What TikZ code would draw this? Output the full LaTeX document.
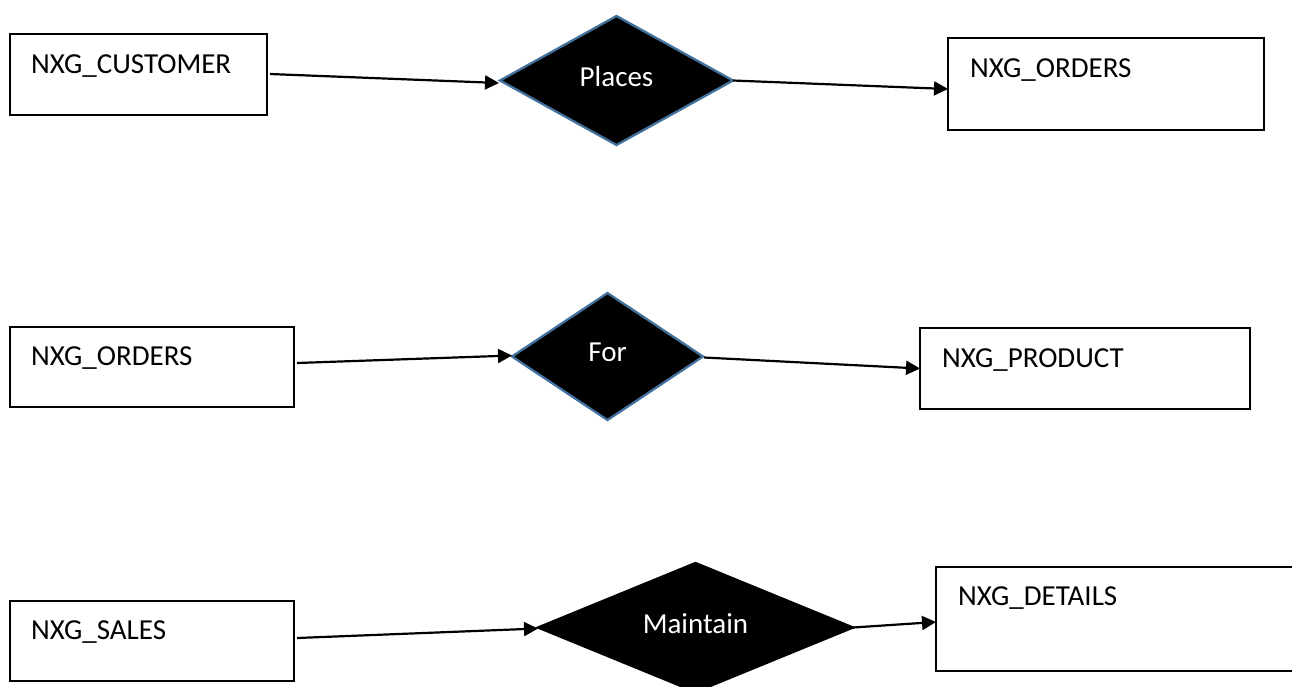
\documentclass[tikz,border=0pt]{standalone}
\usepackage{fontspec}
\setmainfont{Carlito}
\usetikzlibrary{shapes.geometric,arrows.meta}
\definecolor{diablue}{HTML}{41719C}
\tikzset{
  ent/.style={draw=black, line width=1.5pt, rectangle, inner sep=0pt, outer sep=0pt},
  lbl/.style={anchor=base west, inner sep=0pt, font=\fontsize{29}{35}\selectfont},
  rel/.style={shape=diamond, fill=black, draw=diablue, line width=2.3pt, inner sep=0pt, outer sep=0pt,
    text=white, text depth=8pt, font=\fontsize{29}{35}\selectfont},
  conn/.style={line width=2.2pt, -{Triangle[length=14pt,width=14pt]}}
}
\begin{document}
\begin{tikzpicture}[x=1pt,y=-1pt]
\useasboundingbox (0,0) rectangle (1292,686);
\clip (0,0) rectangle (1292,686);
% row 1
\node[ent, minimum width=257pt, minimum height=81pt] (cust) at (138.5,74.5) {};
\node[lbl] (custT) at ([shift={(21,39)}]cust.north west) {NXG\_CUSTOMER};
\node[rel, aspect=1.8, minimum width=233pt, minimum height=129pt] (pl) at (616.5,80.5) {Places};
\node[ent, minimum width=316pt, minimum height=92pt] (ordA) at (1106,84) {};
\node[lbl] (ordAT) at ([shift={(22,39)}]ordA.north west) {NXG\_ORDERS};
% row 2
\node[ent, minimum width=284pt, minimum height=80pt] (ordB) at (152,367) {};
\node[lbl] (ordBT) at ([shift={(21,38)}]ordB.north west) {NXG\_ORDERS};
\node[rel, aspect=1.5, minimum width=191pt, minimum height=127pt] (fr) at (607.5,356.5) {For};
\node[ent, minimum width=330pt, minimum height=81pt] (prod) at (1085,368.5) {};
\node[lbl] (prodT) at ([shift={(22,39)}]prod.north west) {NXG\_PRODUCT};
% row 3
\node[ent, minimum width=284pt, minimum height=80pt] (sales) at (152,641) {};
\node[lbl] (salesT) at ([shift={(21,38)}]sales.north west) {NXG\_SALES};
\node[rel, draw=black, aspect=2.44, minimum width=315pt, minimum height=129pt] (mt) at (695.5,627.5) {Maintain};
\node[ent, minimum width=374pt, minimum height=104pt] (det) at (1123,619) {};
\node[lbl] (detT) at ([shift={(22,38)}]det.north west) {NXG\_DETAILS};
% connectors
\draw[conn] ([shift={(3,-0.5)}]cust.east) -- ([shift={(-1,2.5)}]pl.west);
\draw[conn] (pl.east) -- ([shift={(0,5)}]ordA.west);
\draw[conn] ([shift={(3,-4)}]ordB.east) -- ([shift={(0,-1)}]fr.west);
\draw[conn] ([shift={(1,1)}]fr.east) -- (prod.west);
\draw[conn] ([shift={(3,-3)}]sales.east) -- ([shift={(0,1)}]mt.west);
\draw[conn] (mt.east) -- ([shift={(0,3)}]det.west);
\end{tikzpicture}
\end{document}
